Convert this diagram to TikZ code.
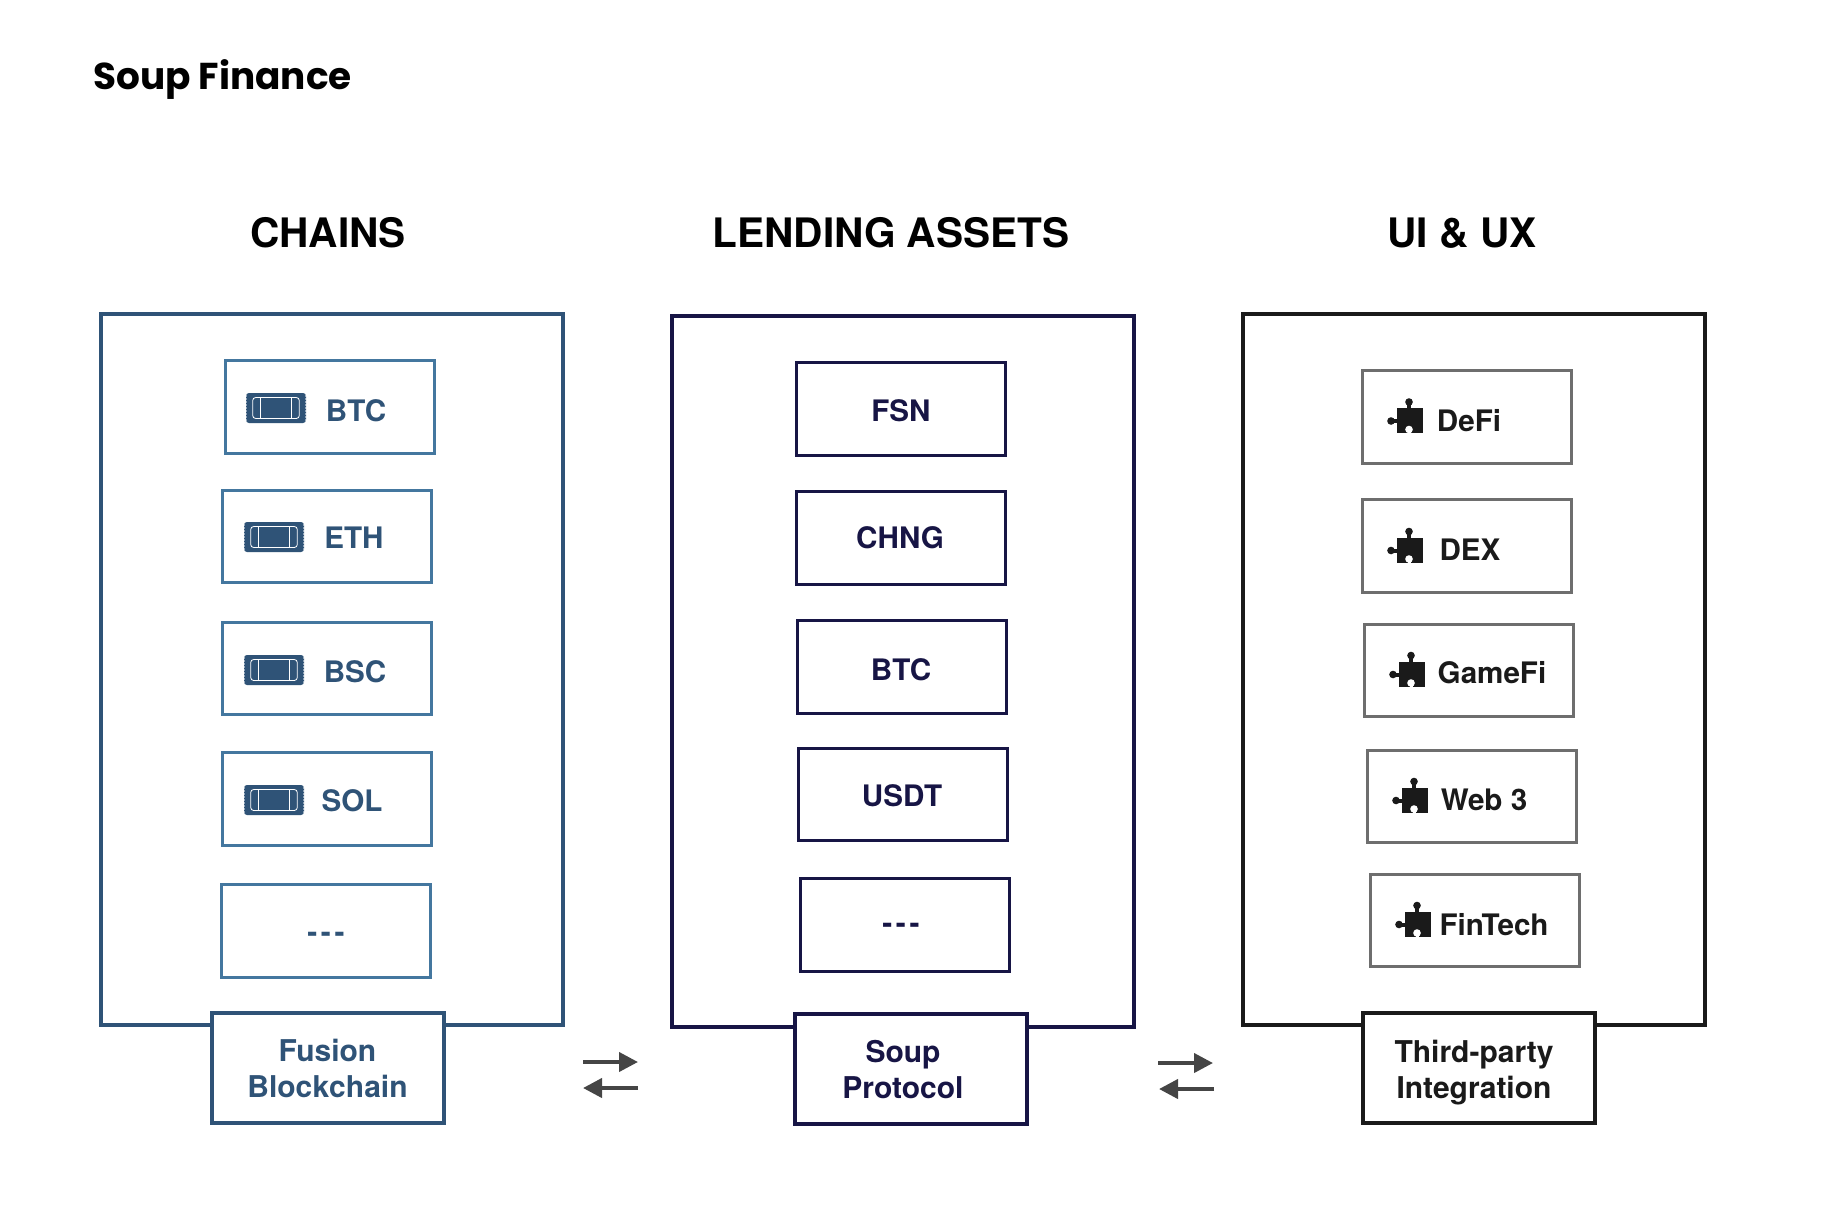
\documentclass[tikz,border=0pt]{standalone}
\usepackage{fontspec}
\usepackage{xcolor}
\usetikzlibrary{arrows.meta}
\setmainfont{TeX Gyre Heros}
\newfontfamily\titlefont{Poppins}
\newfontfamily\dashfont{TeX Gyre Heros}[LetterSpace=12]
\definecolor{chainblue}{HTML}{2F5377}
\definecolor{chainedge}{HTML}{44779F}
\definecolor{lendnavy}{HTML}{171545}
\definecolor{uiblack}{HTML}{1A1A1A}
\definecolor{uiedge}{HTML}{6E6E6E}
\definecolor{flowgray}{HTML}{454545}
\tikzset{
  panel/.style={draw, fill=white, line width=2pt, inner sep=0pt, outer sep=0pt, minimum width=231pt, minimum height=355.5pt},
  itembox/.style={draw, fill=white, line width=1.5pt, inner sep=0pt, outer sep=0pt, minimum width=104.5pt, minimum height=46.2pt},
  tabbox/.style={draw, fill=white, line width=2pt, inner sep=0pt, outer sep=0pt, minimum width=116.2pt, minimum height=55pt},
  heading/.style={font=\bfseries\fontsize{20.3}{24}\selectfont, text=black, inner sep=0pt},
  itemlabel/.style={font=\bfseries\fontsize{14.8}{18}\selectfont, inner sep=0pt},
  tablabel/.style={font=\bfseries\fontsize{15}{18}\selectfont, align=center, inner sep=0pt},
  dashlabel/.style={font=\dashfont\bfseries\fontsize{15}{18}\selectfont, inner sep=0pt},
  flowarrow/.style={draw=flowgray, line width=2pt, -{Triangle[length=9.5pt, width=9.5pt]}},
  ticket/.pic={
    \fill[chainblue, rounded corners=1.5pt] (-30,-15) rectangle (30,15);
    \foreach \dy in {-12,-9,-6,-3,0,3,6,9,12} {
      \fill[white] (-30,\dy) circle[radius=0.8];
      \fill[white] (30,\dy) circle[radius=0.8];
    }
    \draw[white, line width=0.4pt, rounded corners=1.5pt] (-23.3,-10.5) rectangle (23.3,10.5);
    \draw[white, line width=0.4pt] (-15.3,-10.5) -- (-15.3,10.5);
    \draw[white, line width=0.4pt] (15.7,-10.5) -- (15.7,10.5);
  },
  puzzle/.pic={
    \fill[uiblack] (-13,-12.5) rectangle (13,12.5);
    \fill[uiblack] (-3,-18) rectangle (1,-12);
    \fill[uiblack] (-1,-18.5) circle[radius=3.8];
    \fill[uiblack] (-18,-1.5) rectangle (-12,2.5);
    \fill[uiblack] (-19,0.5) circle[radius=3.8];
    \fill[white] (-1,9) circle[radius=3.8];
    \fill[white] (-2.5,9) rectangle (0.5,13.2);
  }
}

\begin{document}
\begin{tikzpicture}[x=0.5pt, y=-0.5pt]
\useasboundingbox (0,0) rectangle (1840,1214);
% title and headings
\node[anchor=base west, inner sep=0pt, font=\titlefont\bfseries\fontsize{18.7}{24}\selectfont] (title) at (93,90) {Soup Finance};
\node[heading] (chainshead) at (328,233) {CHAINS};
\node[heading] (lendinghead) at (891,233) {LENDING ASSETS};
\node[heading] (uihead) at (1462,233) {UI \& UX};
% chains
\node[panel, draw=chainblue] (chainspanel) at (331.5,669) {};
\node[itembox, draw=chainedge] (btcbox) at (330,407) {};
\node[itembox, draw=chainedge] (ethbox) at (327,536.5) {};
\node[itembox, draw=chainedge] (bscbox) at (327,668.5) {};
\node[itembox, draw=chainedge] (solbox) at (327,799) {};
\node[itembox, draw=chainedge] (morechainbox) at (326,931) {};
\pic at (276,408) {ticket};
\pic at (274,537) {ticket};
\pic at (274,670) {ticket};
\pic at (274,800) {ticket};
\node[itemlabel, text=chainblue] (btclabel) at (356,411) {BTC};
\node[itemlabel, text=chainblue] (ethlabel) at (354,538) {ETH};
\node[itemlabel, text=chainblue] (bsclabel) at (355,672) {BSC};
\node[itemlabel, text=chainblue] (sollabel) at (352,801) {SOL};
\node[dashlabel, text=chainblue] (morechainlabel) at (326,937) {---};
\node[tabbox, draw=chainblue] (fusiontab) at (328,1068) {};
\node[tablabel, text=chainblue] (fusionlabel) at (327.5,1068) {Fusion\\Blockchain};
% lending assets
\node[panel, draw=lendnavy] (lendingpanel) at (902.5,671.5) {};
\node[itembox, draw=lendnavy] (fsnbox) at (901,409) {};
\node[itembox, draw=lendnavy] (chngbox) at (901,538) {};
\node[itembox, draw=lendnavy] (lbtcbox) at (902,667) {};
\node[itembox, draw=lendnavy] (usdtbox) at (903,794.5) {};
\node[itembox, draw=lendnavy] (morelendbox) at (905,925) {};
\node[itemlabel, text=lendnavy] (fsnlabel) at (901,411) {FSN};
\node[itemlabel, text=lendnavy] (chnglabel) at (900,538) {CHNG};
\node[itemlabel, text=lendnavy] (lbtclabel) at (901,670) {BTC};
\node[itemlabel, text=lendnavy] (usdtlabel) at (902,796) {USDT};
\node[dashlabel, text=lendnavy] (morelendlabel) at (901,928) {---};
\node[tabbox, draw=lendnavy] (souptab) at (911,1069) {};
\node[tablabel, text=lendnavy] (souplabel) at (903,1070) {Soup\\Protocol};
% ui and ux
\node[panel, draw=uiblack] (uipanel) at (1474,669) {};
\node[itembox, draw=uiedge] (defibox) at (1467,417) {};
\node[itembox, draw=uiedge] (dexbox) at (1466.5,546) {};
\node[itembox, draw=uiedge] (gamefibox) at (1469,670.5) {};
\node[itembox, draw=uiedge] (webbox) at (1472,796.5) {};
\node[itembox, draw=uiedge] (fintechbox) at (1474.5,920.5) {};
\pic at (1410,420.5) {puzzle};
\pic at (1410,550) {puzzle};
\pic at (1412,674) {puzzle};
\pic at (1415,800) {puzzle};
\pic at (1418,924) {puzzle};
\node[itemlabel, text=uiblack] (defilabel) at (1469,421) {DeFi};
\node[itemlabel, text=uiblack] (dexlabel) at (1470,550) {DEX};
\node[itemlabel, text=uiblack] (gamefilabel) at (1492,673) {GameFi};
\node[itemlabel, text=uiblack] (weblabel) at (1484,800) {Web 3};
\node[itemlabel, text=uiblack] (fintechlabel) at (1494,925) {FinTech};
\node[tabbox, draw=uiblack] (thirdtab) at (1479,1068) {};
\node[tablabel, text=uiblack] (thirdlabel) at (1474,1073) {Third-party\\Integration};
% arrows between the columns
\coordinate (leftoutA) at (583,1062);
\coordinate (leftinA) at (638,1062);
\coordinate (leftoutB) at (638,1088);
\coordinate (leftinB) at (583,1088);
\coordinate (rightoutA) at (1158,1063);
\coordinate (rightinA) at (1213,1063);
\coordinate (rightoutB) at (1214,1089);
\coordinate (rightinB) at (1159,1089);
\draw[flowarrow] (leftoutA) -- (leftinA);
\draw[flowarrow] (leftoutB) -- (leftinB);
\draw[flowarrow] (rightoutA) -- (rightinA);
\draw[flowarrow] (rightoutB) -- (rightinB);
\end{tikzpicture}
\end{document}
